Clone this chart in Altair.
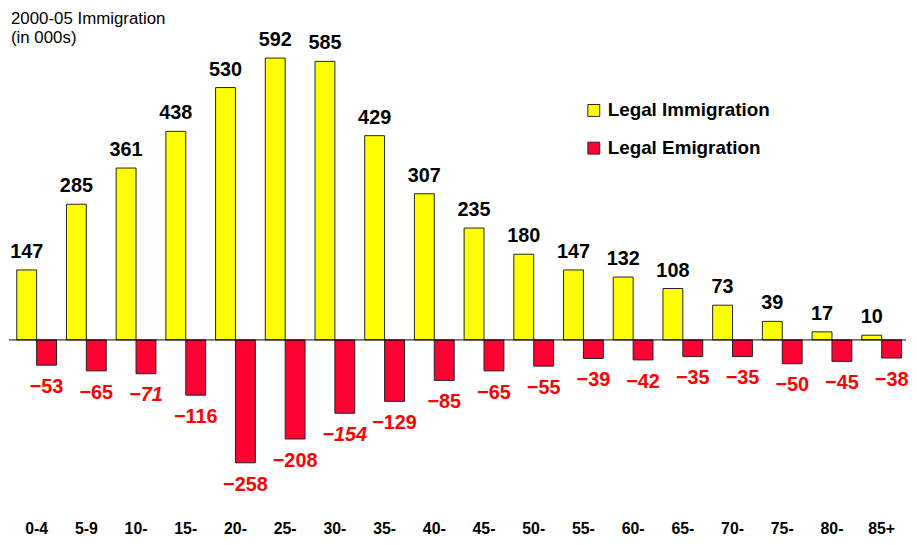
import altair as alt
import pandas as pd

categories = ["0-4", "5-9", "10-|14", "15-|19", "20-|24", "25-|29", "30-|34", "35-|39",
              "40-|44", "45-|49", "50-|54", "55-|59", "60-|64", "65-|69", "70-|74",
              "75-|79", "80-|84", "85+"]
immigration = [147, 285, 361, 438, 530, 592, 585, 429, 307, 235, 180, 147, 132, 108, 73, 39, 17, 10]
emigration = [-53, -65, -71, -116, -258, -208, -154, -129, -85, -65, -55, -39, -42, -35, -35, -50, -45, -38]
italic_groups = ["10-|14", "30-|34"]
series_names = ["Legal Immigration", "Legal Emigration"]
series_colors = ["#FFFF00", "#FF0033"]
title_lines = ["2000-05 Immigration", "(in 000s)"]

rows = []
for i, (c, a, b) in enumerate(zip(categories, immigration, emigration)):
    it = 1 if c in italic_groups else 0
    rows.append({"idx": i, "series": series_names[0], "side": -1, "value": a, "italic": it})
    rows.append({"idx": i, "series": series_names[1], "side": 1, "value": b, "italic": it})
df = pd.DataFrame(rows)

cat_df = pd.DataFrame({
    "idx": list(range(len(categories))),
    "l1": [c.split("|")[0] for c in categories],
    "l2": [c.split("|")[1] if "|" in c else "" for c in categories],
})

FONT = "Liberation Sans"
HALF = 0.4  # bar width as fraction of a category step

xscale = alt.Scale(domain=[-0.556, 17.49], nice=False, zero=False)
yscale = alt.Scale(domain=[-425.7, 652.6], nice=False, zero=False)
y = alt.Y("value:Q", scale=yscale, axis=None)

base = alt.Chart(df).transform_calculate(
    lo="datum.side < 0 ? datum.idx - %f : datum.idx" % HALF,
    hi="datum.side < 0 ? datum.idx : datum.idx + %f" % HALF,
    mid="datum.idx + datum.side * %f" % (HALF / 2),
)

bars = base.mark_bar(stroke="#222222", strokeWidth=1).encode(
    x=alt.X("lo:Q", scale=xscale, axis=None),
    x2="hi:Q",
    y=y,
    y2=alt.datum(0),
    color=alt.Color("series:N",
                    scale=alt.Scale(domain=series_names, range=series_colors),
                    legend=None),
)

zero = alt.Chart(pd.DataFrame({"v": [0]})).mark_rule(color="black", strokeWidth=1).encode(
    y=alt.Y("v:Q", scale=yscale, axis=None))

tx = alt.X("mid:Q", scale=xscale, axis=None)

imm_text = base.transform_filter(alt.datum.side < 0).mark_text(
    baseline="alphabetic", dy=-12, fontSize=20, fontWeight="bold", font=FONT, color="black"
).encode(x=tx, y=y, text="value:Q")

emi_text = base.transform_filter("datum.side > 0 && datum.italic == 0").mark_text(
    baseline="top", dy=12, fontSize=20, fontWeight="bold", font=FONT, color="#FF0000"
).encode(x=tx, y=y, text="value:Q")

emi_text_it = base.transform_filter("datum.side > 0 && datum.italic == 1").mark_text(
    baseline="top", dy=12, fontSize=20, fontWeight="bold", fontStyle="italic", font=FONT,
    color="#FF0000"
).encode(x=tx, y=y, text="value:Q")

cx = alt.X("idx:Q", scale=xscale, axis=None)
cat1 = alt.Chart(cat_df).mark_text(
    baseline="middle", fontSize=16, fontWeight="bold", font=FONT, color="black"
).encode(x=cx, y=alt.value(504), text="l1:N")
cat2 = alt.Chart(cat_df).mark_text(
    baseline="middle", fontSize=16, fontWeight="bold", font=FONT, color="black"
).encode(x=cx, y=alt.value(529), text="l2:N")

def legend_entry(k, ypx):
    d = pd.DataFrame({"label": [series_names[k]]})
    sq = alt.Chart(d).mark_square(size=144, fill=series_colors[k], stroke="#222222",
                                  strokeWidth=1, opacity=1).encode(
        x=alt.value(590), y=alt.value(ypx))
    tt = alt.Chart(d).mark_text(align="left", baseline="middle", fontSize=19,
                                fontWeight="bold", font=FONT, color="black").encode(
        x=alt.value(604), y=alt.value(ypx), text="label:N")
    return [sq, tt]

def title_line(k, ypx):
    d = pd.DataFrame({"t": [title_lines[k]]})
    return alt.Chart(d).mark_text(align="left", baseline="middle", fontSize=17,
                                  font=FONT, color="black").encode(
        x=alt.value(2), y=alt.value(ypx), text="t:N")

layers = [bars, zero, imm_text, emi_text, emi_text_it, cat1, cat2]
layers += legend_entry(0, 82) + legend_entry(1, 120)
layers += [title_line(0, -10), title_line(1, 9)]

chart = alt.layer(*layers).properties(
    width=909, height=537,
    autosize=alt.AutoSizeParams(type="fit", contains="padding"),
    padding=0,
).configure_view(strokeWidth=0)

chart.save("out.html", embed_options={"renderer": "svg", "actions": False})
